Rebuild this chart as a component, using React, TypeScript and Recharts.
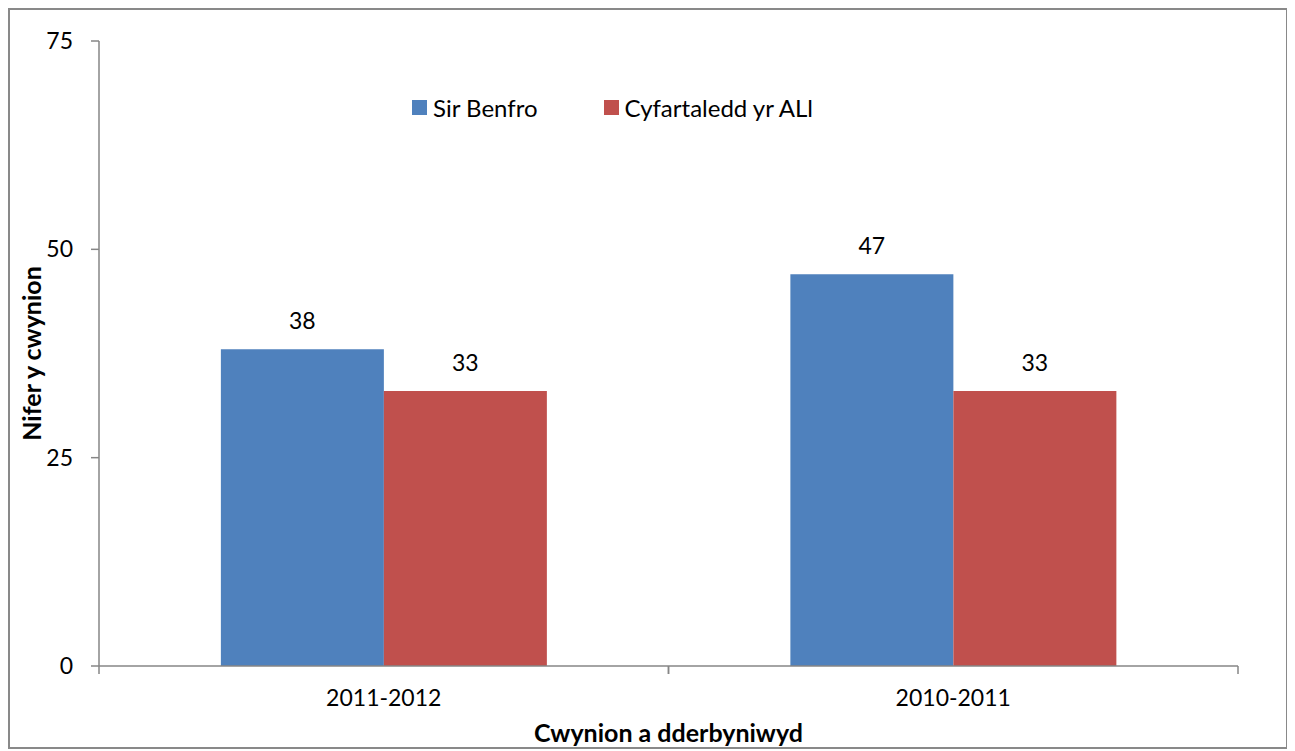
import React from 'react';
import { BarChart, Bar, XAxis, YAxis, Legend, LabelList, Label } from 'recharts';

const categories = ['2011-2012', '2010-2011'];
const sirBenfro = [38, 47];
const cyfartaledd = [33, 33];
const yTicks = [0, 25, 50, 75];
const seriesNames = ['Sir Benfro', 'Cyfartaledd yr ALl'];
const seriesColors = ['#4F81BD', '#C0504D'];

const data = categories.map((c, i) => ({ name: c, a: sirBenfro[i], b: cyfartaledd[i] }));

const FONT = 'Lato, "Open Sans", sans-serif';
const AXIS = '#868686';

const LegendContent = () => (
  <div style={{ display: 'flex', alignItems: 'center', fontFamily: FONT, fontSize: 24, color: '#000', whiteSpace: 'nowrap' }}>
    {seriesNames.map((n, i) => (
      <div key={n} style={{ display: 'flex', alignItems: 'center', marginRight: i === 0 ? 66 : 0 }}>
        <span style={{ display: 'inline-block', width: 15, height: 15, background: seriesColors[i], marginRight: 6 }} />
        <span>{n}</span>
      </div>
    ))}
  </div>
);

const CategoryTick = (props: any) => {
  const { x, y, payload } = props;
  const half = payload && typeof payload.offset === 'number' ? payload.offset : 0;
  const axisY = y - 24;
  return (
    <g>
      {half > 0 && (
        <>
          <line x1={x - half} x2={x - half} y1={axisY} y2={axisY + 8} stroke={AXIS} strokeWidth={1.5} />
          <line x1={x + half} x2={x + half} y1={axisY} y2={axisY + 8} stroke={AXIS} strokeWidth={1.5} />
        </>
      )}
      <text x={x} y={y} dy="0.71em" textAnchor="middle" fontFamily={FONT} fontSize={23} fill="#000">
        {payload.value}
      </text>
    </g>
  );
};

export default function App() {
  return (
    <div style={{ width: 1280, height: 741, border: '2px solid #898989', boxSizing: 'border-box', background: '#fff' }}>
      <BarChart
        width={1276}
        height={737}
        data={data}
        margin={{ top: 31, right: 48, bottom: 41, left: 0 }}
        barGap={0}
        barCategoryGap="21.4%"
      >
        <XAxis
          dataKey="name"
          stroke={AXIS}
          strokeWidth={1.5}
          tickLine={false}
          tickSize={8}
          tickMargin={16}
          height={40}
          tick={<CategoryTick />}
        >
          <Label
            content={({ viewBox }: any) => (
              <text
                x={viewBox.x + viewBox.width / 2}
                y={viewBox.y + 66}
                textAnchor="middle"
                dominantBaseline="central"
                fontFamily={FONT}
                fontWeight="bold"
                fontSize={25}
                fill="#000"
              >
                Cwynion a dderbyniwyd
              </text>
            )}
          />
        </XAxis>
        <YAxis
          domain={[0, 75]}
          ticks={yTicks}
          width={89}
          stroke={AXIS}
          strokeWidth={1.5}
          tickSize={8}
          tickMargin={18}
          tick={{ fill: '#000', fontFamily: FONT, fontSize: 23 }}
        >
          <Label
            content={({ viewBox }: any) => {
              const cx = 21;
              const cy = viewBox.y + viewBox.height / 2;
              return (
                <text
                  x={cx}
                  y={cy}
                  transform={`rotate(-90 ${cx} ${cy})`}
                  textAnchor="middle"
                  dominantBaseline="central"
                  fontFamily={FONT}
                  fontWeight="bold"
                  fontSize={25}
                  fill="#000"
                >
                  Nifer y cwynion
                </text>
              );
            }}
          />
        </YAxis>
        <Legend
          layout="horizontal"
          verticalAlign="middle"
          align="center"
          content={<LegendContent />}
          wrapperStyle={{ position: 'absolute', left: 402, top: 83, width: 'auto', height: 'auto' }}
        />
        <Bar dataKey="a" name={seriesNames[0]} fill={seriesColors[0]} isAnimationActive={false}>
          <LabelList dataKey="a" position="top" offset={20} fill="#000" fontFamily={FONT} fontSize={23} />
        </Bar>
        <Bar dataKey="b" name={seriesNames[1]} fill={seriesColors[1]} isAnimationActive={false}>
          <LabelList dataKey="b" position="top" offset={20} fill="#000" fontFamily={FONT} fontSize={23} />
        </Bar>
      </BarChart>
    </div>
  );
}
